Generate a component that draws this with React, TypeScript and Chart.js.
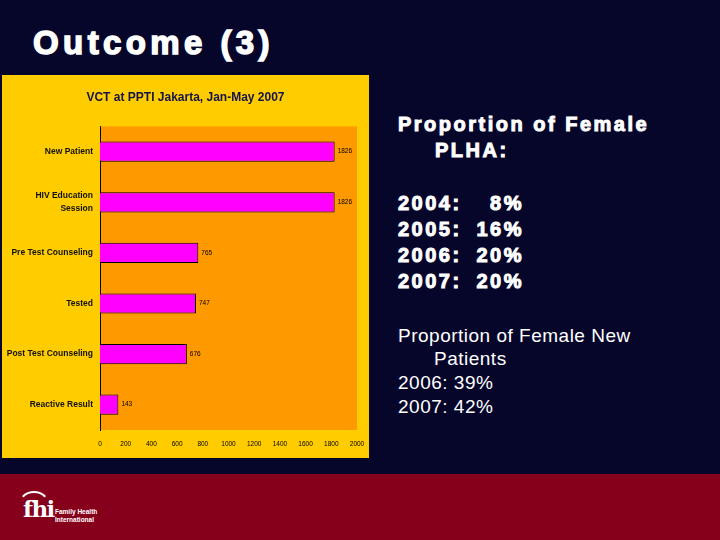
import React, { useEffect, useRef } from "react";
import { Chart, registerables } from "chart.js";

Chart.register(...registerables);

// ---- data ----
const categories: (string | string[])[] = [
  "New Patient",
  ["HIV Education", "Session"],
  "Pre Test Counseling",
  "Tested",
  "Post Test Counseling",
  "Reactive Result",
];
const values = [1826, 1826, 765, 747, 676, 143];
const xMin = 0;
const xMax = 2000;
const xStep = 200;
const chartTitle = "VCT at PPTI Jakarta, Jan-May 2007";

const plhaYears = ["2004", "2005", "2006", "2007"];
const plhaPct = [8, 16, 20, 20];
const newYears = ["2006", "2007"];
const newPct = [39, 42];

const NARROW =
  '"Liberation Sans Narrow", "Arial Narrow", "Liberation Sans", Arial, sans-serif';
const SANS = '"Liberation Sans", Arial, Helvetica, sans-serif';

const NAVY = "#06062b";
const RED = "#86001c";

function BarChart() {
  const ref = useRef<HTMLCanvasElement | null>(null);
  useEffect(() => {
    if (!ref.current) return;
    const plotBg = {
      id: "plotBg",
      beforeDraw(chart: any) {
        const { ctx, chartArea } = chart;
        ctx.save();
        ctx.fillStyle = "#ffcc00";
        ctx.fillRect(0, 0, chart.width, chart.height);
        ctx.fillStyle = "#ff9900";
        ctx.fillRect(
          chartArea.left,
          chartArea.top,
          chartArea.right - chartArea.left,
          chartArea.bottom - chartArea.top
        );
        ctx.restore();
      },
    };
    const valueLabels = {
      id: "valueLabels",
      afterDatasetsDraw(chart: any) {
        const { ctx } = chart;
        const meta = chart.getDatasetMeta(0);
        ctx.save();
        ctx.font = `6.5px ${NARROW}`;
        ctx.fillStyle = "#000";
        ctx.textBaseline = "middle";
        ctx.textAlign = "left";
        meta.data.forEach((bar: any, i: number) => {
          ctx.fillText(String(values[i]), bar.x + 3, bar.y);
        });
        ctx.restore();
      },
    };
    const chart = new Chart(ref.current, {
      type: "bar",
      data: {
        labels: categories as any,
        datasets: [
          {
            data: values,
            backgroundColor: "#ff00ff",
            borderColor: "#000000",
            borderWidth: 1,
            barPercentage: 0.4,
            categoryPercentage: 1,
          },
        ],
      },
      options: {
        indexAxis: "y",
        animation: false,
        responsive: false,
        devicePixelRatio: 1,
        layout: { padding: 0 },
        plugins: {
          legend: { display: false },
          tooltip: { enabled: false },
          title: {
            display: true,
            text: chartTitle,
            color: "#14144a",
            font: { family: NARROW, size: 12, weight: "bold" },
            padding: { top: 15, bottom: 22 },
          },
        },
        scales: {
          x: {
            type: "linear",
            min: xMin,
            max: xMax,
            ticks: {
              stepSize: xStep,
              autoSkip: false,
              maxRotation: 0,
              color: "#000",
              font: { family: NARROW, size: 6.5 },
              padding: 10,
              callback: (v: any) => String(v),
            },
            grid: { display: false, drawTicks: false },
            border: { display: false },
            afterFit: (s: any) => {
              s.height = 28;
              s.paddingRight = 12;
            },
          },
          y: {
            ticks: {
              color: "#111",
              font: { family: NARROW, size: 8.5, weight: "bold", lineHeight: 1.6 },
              padding: 7,
            },
            grid: { display: false, drawTicks: false },
            border: { display: true, color: "#000", width: 1 },
            afterFit: (s: any) => {
              s.width = 98;
            },
          },
        },
      },
      plugins: [plotBg, valueLabels],
    });
    return () => chart.destroy();
  }, []);
  return (
    <canvas
      ref={ref}
      width={367}
      height={383}
      style={{ position: "absolute", left: 2, top: 75, width: 367, height: 383 }}
    />
  );
}

const abs = (left: number, top: number, extra: React.CSSProperties = {}): React.CSSProperties => ({
  position: "absolute",
  left,
  top,
  whiteSpace: "pre",
  color: "#fff",
  ...extra,
});

export default function App() {
  const boldText: React.CSSProperties = {
    fontFamily: SANS,
    fontWeight: "bold",
    fontSize: 20,
    lineHeight: "26px",
    letterSpacing: 2.5,
    WebkitTextStroke: "1px #fff",
  };
  const normText: React.CSSProperties = {
    fontFamily: SANS,
    fontSize: 19,
    lineHeight: "24px",
    letterSpacing: 0.5,
  };
  return (
    <div
      style={{
        position: "absolute",
        left: 0,
        top: 0,
        width: 720,
        height: 540,
        overflow: "hidden",
        background: NAVY,
      }}
    >
      <div
        style={abs(33, 19, {
          fontFamily: SANS,
          fontWeight: "bold",
          fontSize: 33,
          lineHeight: "48px",
          letterSpacing: 4.4,
          WebkitTextStroke: "1.5px #fff",
        })}
      >
        Outcome (3)
      </div>

      <BarChart />

      <div style={abs(398, 111, boldText)}>Proportion of Female</div>
      <div style={abs(435, 137, boldText)}>PLHA:</div>
      {plhaYears.map((y, i) => (
        <div key={y} style={abs(398, 190 + i * 26, { ...boldText, width: 126 })}>
          <span>{y}:</span>
          <span style={{ position: "absolute", right: 0 }}>{plhaPct[i]}%</span>
        </div>
      ))}

      <div style={abs(398, 324, normText)}>Proportion of Female New</div>
      <div style={abs(434, 347, normText)}>Patients</div>
      {newYears.map((y, i) => (
        <div key={y} style={abs(398, 371 + i * 24, normText)}>
          {y}: {newPct[i]}%
        </div>
      ))}

      <div
        style={{
          position: "absolute",
          left: 0,
          top: 474,
          width: 720,
          height: 66,
          background: RED,
        }}
      >
        <div
          style={{
            position: "absolute",
            left: 17,
            top: 17,
            width: 34,
            height: 34,
            borderRadius: "50%",
            borderTop: "2.5px solid #fff",
            borderLeft: "2px solid transparent",
            borderRight: "2px solid transparent",
            borderBottom: "2px solid transparent",
            boxSizing: "border-box",
          }}
        />
        <div
          style={abs(23, 22, {
            fontFamily: '"DejaVu Serif", "Liberation Serif", serif',
            fontWeight: "bold",
            fontSize: 23,
            lineHeight: "26px",
            letterSpacing: -1.5,
          })}
        >
          fhi
        </div>
        <div
          style={abs(55, 34, {
            fontFamily: SANS,
            fontWeight: "bold",
            fontSize: 6.5,
            lineHeight: "7.5px",
          })}
        >
          {"Family Health\nInternational"}
        </div>
      </div>
    </div>
  );
}
